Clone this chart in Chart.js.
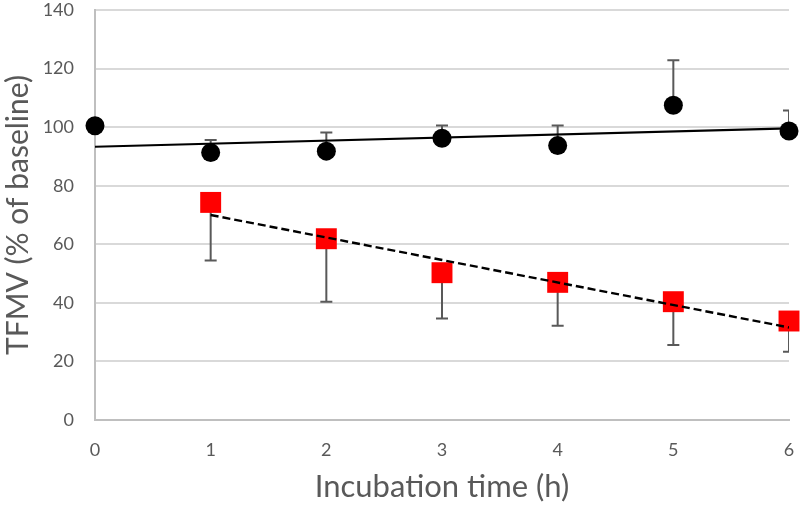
<!DOCTYPE html>
<html>
<head>
<meta charset="utf-8">
<script src="https://cdn.jsdelivr.net/npm/chart.js@4"></script>
<style>
  html, body { margin: 0; padding: 0; background: #fff; }
  #wrap { width: 800px; height: 506px; }
</style>
</head>
<body>
<div id="wrap"><canvas id="tfmvChart"></canvas></div>
<script>
// incubation time (h)
const hours = [0, 1, 2, 3, 4, 5, 6];

// control (black circles), upper error bar
const controlMean = [100.5, 91.3, 91.8, 96.2, 93.7, 107.5, 98.7];
const controlErr = [0, 4.3, 6.4, 4.4, 6.9, 15.3, 7.0];

// treated (red squares), lower error bar
const treatedHours = [1, 2, 3, 4, 5, 6];
const treatedMean = [74.3, 61.9, 50.3, 47.0, 40.4, 33.8];
const treatedErr = [19.8, 21.5, 15.6, 14.8, 14.8, 10.5];

// trendline ends
const controlTrendX = [0, 6];
const controlTrendY = [93.3, 99.6];
const treatedTrendX = [1, 6];
const treatedTrendY = [70.0, 31.6];

const yTicks = [0, 20, 40, 60, 80, 100, 120, 140];

const toPoints = (xs, ys) => xs.map((x, i) => ({ x: x, y: ys[i] }));

const errorBars = {
    id: 'errorBars',
    beforeDatasetsDraw(chart) {
        const { ctx, chartArea, scales: { x, y } } = chart;
        ctx.save();
        ctx.beginPath();
        ctx.rect(chartArea.left, chartArea.top, chartArea.right - chartArea.left, chartArea.bottom - chartArea.top);
        ctx.clip();
        ctx.strokeStyle = '#595959';
        ctx.lineWidth = 2;
        const draw = (xs, ys, errs, dir) => {
            xs.forEach((h, i) => {
                if (!errs[i]) return;
                const px = x.getPixelForValue(h);
                const p0 = y.getPixelForValue(ys[i]);
                const p1 = y.getPixelForValue(ys[i] + dir * errs[i]);
                ctx.beginPath();
                ctx.moveTo(px, p0);
                ctx.lineTo(px, p1);
                ctx.moveTo(px - 6, p1);
                ctx.lineTo(px + 6, p1);
                ctx.stroke();
            });
        };
        draw(hours, controlMean, controlErr, 1);
        draw(treatedHours, treatedMean, treatedErr, -1);
        ctx.restore();
    }
};

const ctx = document.getElementById('tfmvChart');

new Chart(ctx, {
    type: 'scatter',
    data: {
        datasets: [
            {
                type: 'line',
                data: toPoints(controlTrendX, controlTrendY),
                borderColor: '#000',
                borderWidth: 2.2,
                pointRadius: 0,
                order: 0
            },
            {
                type: 'line',
                data: toPoints(treatedTrendX, treatedTrendY),
                borderColor: '#000',
                borderWidth: 2.4,
                borderDash: [8, 4],
                pointRadius: 0,
                order: 0
            },
            {
                data: toPoints(hours, controlMean),
                pointStyle: 'circle',
                pointRadius: 9.5,
                backgroundColor: '#000',
                borderColor: '#000',
                borderWidth: 0,
                clip: false,
                order: 1
            },
            {
                data: toPoints(treatedHours, treatedMean),
                pointStyle: 'rect',
                pointRadius: 14.8,
                backgroundColor: '#ff0000',
                borderColor: '#ff0000',
                borderWidth: 0,
                clip: false,
                order: 1
            }
        ]
    },
    options: {
        responsive: true,
        maintainAspectRatio: false,
        animation: false,
        events: [],
        layout: { autoPadding: false, padding: { top: 10, right: 11, left: 0, bottom: 0 } },
        plugins: {
            legend: { display: false },
            tooltip: { enabled: false }
        },
        scales: {
            x: {
                type: 'linear',
                min: 0,
                max: 6,
                afterBuildTicks: (axis) => { axis.ticks = hours.map(v => ({ value: v })); },
                afterFit: (axis) => {
                    axis.height = 86;
                    axis.paddingLeft = 0;
                    axis.paddingRight = 0;
                },
                grid: { display: false, drawTicks: false },
                border: { display: true, color: '#bfbfbf', width: 2 },
                ticks: { color: '#595959', font: { family: 'Lato', size: 18 }, padding: 19 },
                title: {
                    display: true,
                    text: 'Incubation time (h)',
                    color: '#595959',
                    font: { family: 'Lato', size: 31 },
                    padding: { top: 3, bottom: 0 }
                }
            },
            y: {
                min: 0,
                max: 140,
                afterBuildTicks: (axis) => { axis.ticks = yTicks.map(v => ({ value: v })); },
                afterFit: (axis) => {
                    axis.width = 95;
                    axis.paddingTop = 0;
                    axis.paddingBottom = 0;
                },
                grid: { color: '#d9d9d9', lineWidth: 2, drawTicks: false },
                border: { display: true, color: '#bfbfbf', width: 2 },
                ticks: { color: '#595959', font: { family: 'Lato', size: 18 }, padding: 21 },
                title: {
                    display: true,
                    text: 'TFMV (% of baseline)',
                    color: '#595959',
                    font: { family: 'Lato', size: 30 },
                    padding: { top: 0, bottom: 4 }
                }
            }
        }
    },
    plugins: [errorBars]
});
</script>
</body>
</html>
